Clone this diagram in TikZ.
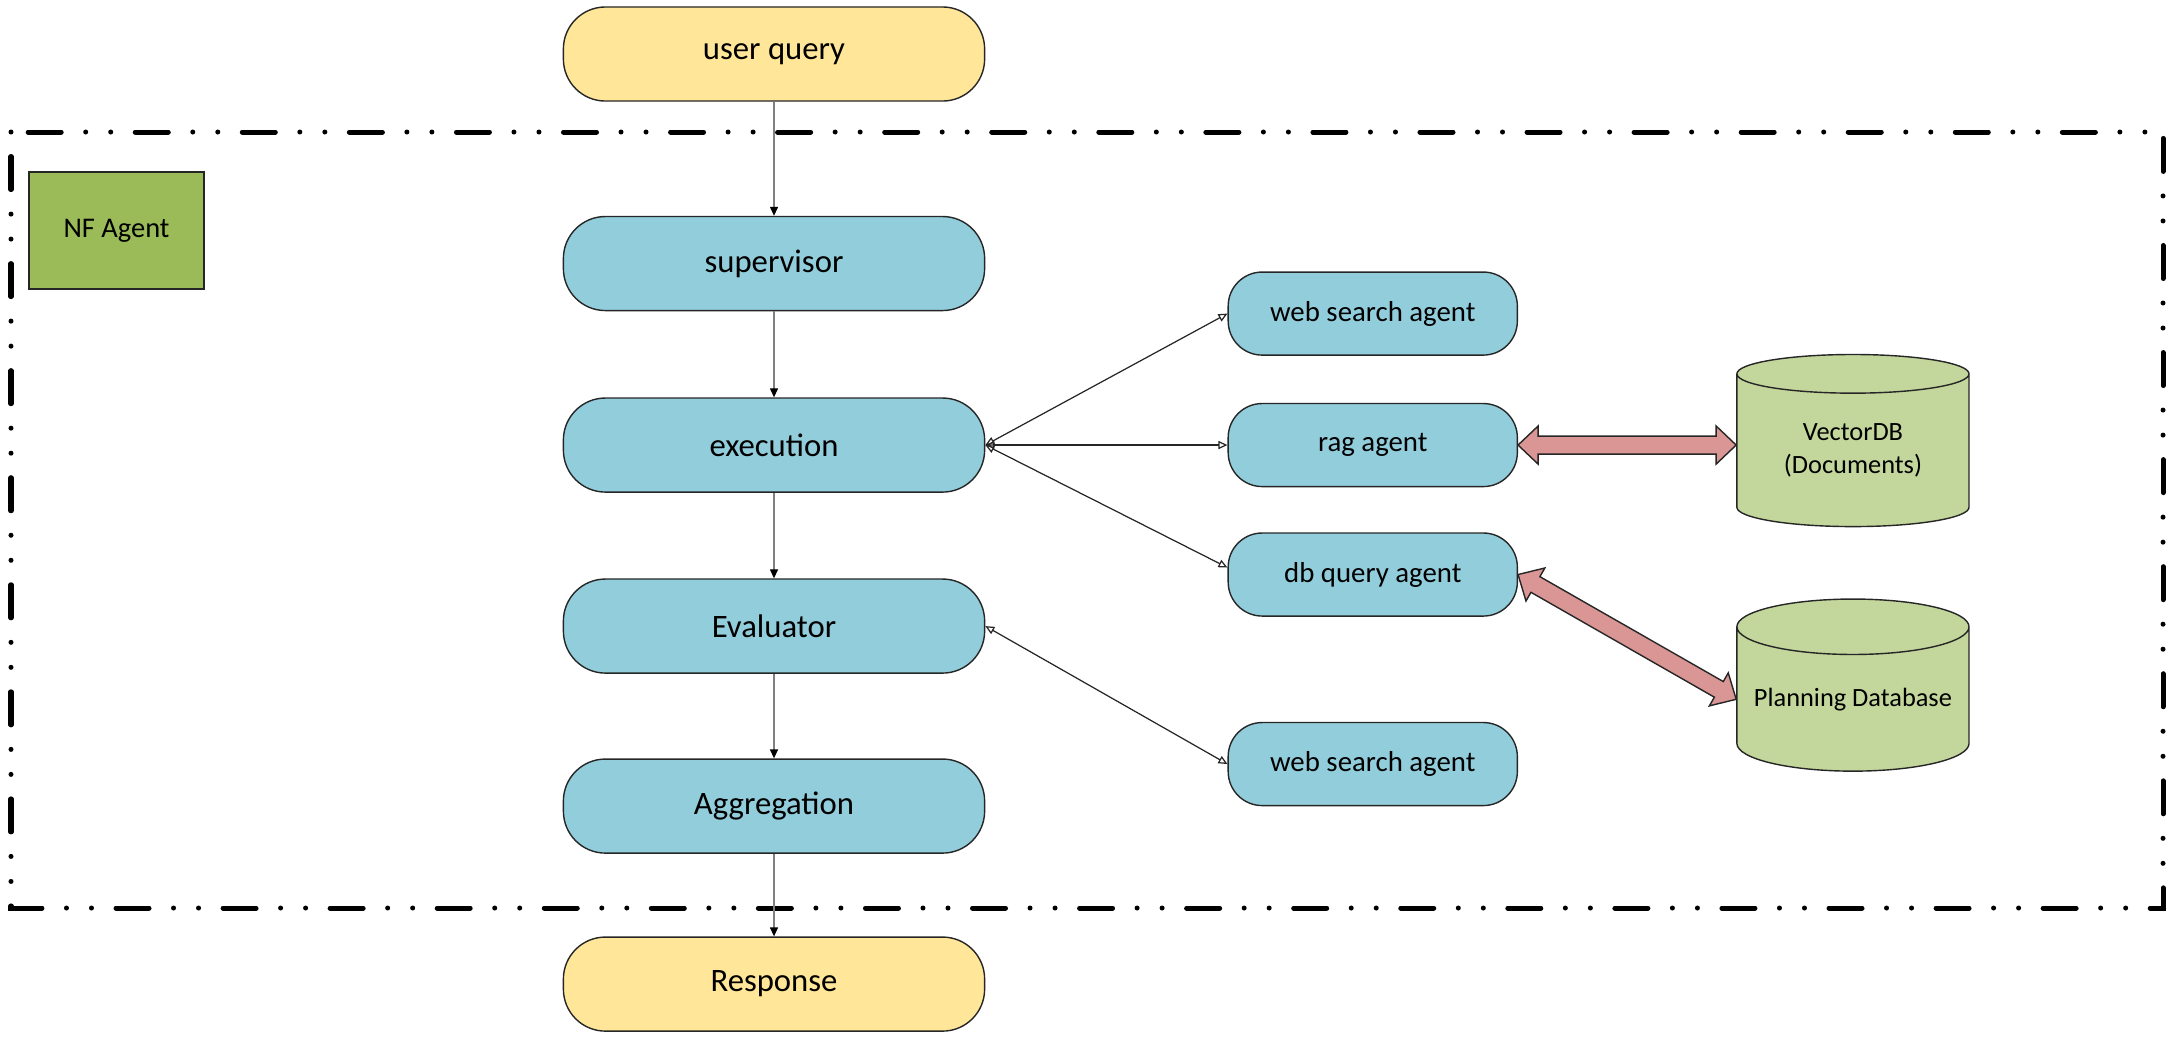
\documentclass[tikz,border=0pt]{standalone}
\usepackage{fontspec}
\setmainfont{Carlito}
\usetikzlibrary{shapes,arrows.meta,positioning,calc}
\usepackage{xcolor}
\definecolor{flowyellow}{HTML}{FFE699}
\definecolor{agentblue}{HTML}{92CDDC}
\definecolor{nfgreen}{HTML}{9BBB59}
\definecolor{dbgreen}{HTML}{C3D69B}
\definecolor{linkred}{HTML}{D99694}

\newcommand{\fatarrow}[2]{%
  \coordinate (fa) at ($(#1)!0.2cm!(#2)$);
  \coordinate (fb) at ($(#2)!0.2cm!(#1)$);
  \path[fat] (#1) -- ($(fa)!0.19cm!90:(#2)$) -- ($(fa)!0.09cm!90:(#2)$)
    -- ($(fb)!0.09cm!-90:(#1)$) -- ($(fb)!0.19cm!-90:(#1)$) -- (#2)
    -- ($(fb)!0.19cm!90:(#1)$) -- ($(fb)!0.09cm!90:(#1)$)
    -- ($(fa)!0.09cm!-90:(#2)$) -- ($(fa)!0.19cm!-90:(#2)$) -- cycle;}

\begin{document}
\begin{tikzpicture}[x=0.01cm, y=-0.01cm, auto]
  \tikzstyle{flow} = [rectangle, draw=black!85, line width=0.4pt, minimum width=4.21cm, minimum height=0.94cm, inner sep=0pt, rounded corners=0.42cm, font=\fontsize{9.3}{11}\selectfont]
  \tikzstyle{io} = [flow, fill=flowyellow]
  \tikzstyle{stage} = [flow, fill=agentblue]
  \tikzstyle{agent} = [rectangle, draw=black!85, line width=0.4pt, fill=agentblue, minimum width=2.89cm, minimum height=0.83cm, inner sep=0pt, rounded corners=0.34cm, font=\fontsize{8.2}{10}\selectfont]
  \tikzstyle{store} = [cylinder, shape border rotate=90, aspect=0.28, draw=black!85, line width=0.4pt, fill=dbgreen, minimum width=2.32cm, minimum height=1.72cm, inner sep=0pt, align=center, font=\fontsize{7.5}{9.5}\selectfont]
  \tikzstyle{label} = [rectangle, draw=black!85, line width=0.4pt, fill=nfgreen, minimum width=1.75cm, minimum height=1.17cm, font=\fontsize{8.1}{10}\selectfont]
  \tikzstyle{down} = [draw=black!50, line width=0.37pt, -{Triangle[length=0.09cm, width=0.08cm, color=black]}]
  \tikzstyle{link} = [draw=black!85, line width=0.35pt, {Triangle[open, length=0.09cm, width=0.08cm]}-{Triangle[open, length=0.09cm, width=0.08cm]}]
  \tikzstyle{fat} = [draw=black!85, line width=0.4pt, fill=linkred]
  \tikzstyle{frame} = [draw=black, line width=0.05cm, line cap=round, dash pattern=on 0cm off 0.245cm on 0.33cm off 0.245cm on 0cm off 0.25cm]

  \useasboundingbox (0,0) rectangle (2173,1041);
  \path[frame] (11,132) rectangle (2163,908);

  \node[io] (query) at (774,54) {user query};
  \node[stage, below=1.14cm of query] (super) {supervisor};
  \node[stage, below=0.86cm of super] (exec) {execution};
  \node[stage, below=0.855cm of exec] (eval) {Evaluator};
  \node[stage, below=0.845cm of eval] (aggr) {Aggregation};
  \node[io, below=0.825cm of aggr] (resp) {Response};

  \node[label] (nf) at (116.5,230.5) {NF Agent};

  \node[agent, right=2.42cm of exec] (rag) {rag agent};
  \node[agent, above=0.47cm of rag.north west, anchor=south west] (web1) {web search agent};
  \node[agent, below=0.45cm of rag.south west, anchor=north west] (dbq) {db query agent};
  \node[agent, below=1.05cm of dbq.south west, anchor=north west] (web2) {web search agent};

  \node[store, right=2.18cm of rag, yshift=-0.055cm] (vdb) {VectorDB\\(Documents)};
  \node[store, below=0.71cm of vdb] (pdb) {Planning Database};

  \path[down] (query) -- (super);
  \path[down] (super) -- (exec);
  \path[down] (exec) -- (eval);
  \path[down] (eval) -- (aggr);
  \path[down] (aggr) -- (resp);

  \path[link] (exec.east) -- (web1.west);
  \path[link] (exec.east) -- (rag.west);
  \path[link] (exec.east) -- ($(dbq.west)+(0,-7)$);
  \path[link] (eval.east) -- (web2.west);

  \fatarrow{rag.east}{vdb.west |- rag.east}
  \fatarrow{dbq.east}{pdb.west}
\end{tikzpicture}
\end{document}
